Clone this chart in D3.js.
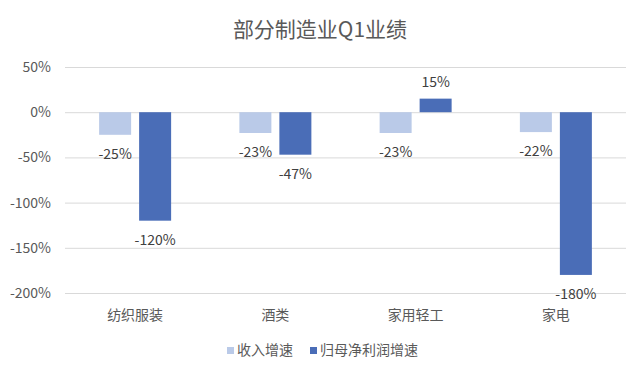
<!DOCTYPE html>
<html>
<head>
<meta charset="utf-8">
<script src="https://cdn.jsdelivr.net/npm/d3@7/dist/d3.min.js"></script>
<style>
  body { margin: 0; background: #fff; }
  text { font-family: "Noto Sans CJK SC", "Noto Sans", sans-serif; }
</style>
</head>
<body>
<div id="chart"></div>
<script>
var categories = ["纺织服装", "酒类", "家用轻工", "家电"];
var seriesNames = ["收入增速", "归母净利润增速"];
var revenueGrowth = [-25, -23, -23, -22];
var profitGrowth = [-120, -47, 15, -180];
var yTicks = [50, 0, -50, -100, -150, -200];

var colors = ["#BACAE8", "#4A6DB7"];

var width = 641,
    height = 371;

var svg = d3.select("#chart").append("svg")
    .attr("width", width)
    .attr("height", height);

var x = d3.scaleBand()
    .domain(categories)
    .range([65, 626]);

var xInner = d3.scaleBand()
    .domain(seriesNames)
    .range([0, 72])
    .paddingInner(0.2);

var y = d3.scaleLinear()
    .domain([-200, 50])
    .range([293, 67]);

// title
svg.append("text")
    .attr("x", 320)
    .attr("y", 37)
    .attr("text-anchor", "middle")
    .attr("font-size", 21)
    .attr("fill", "#595959")
    .text("部分制造业Q1业绩");

// gridlines + y labels
var yAxis = d3.axisLeft(y)
    .tickValues(yTicks)
    .tickSize(-(626 - 65))
    .tickFormat(function(d) { return d + "%"; });

var gy = svg.append("g")
    .attr("transform", "translate(65,0)")
    .call(yAxis);
gy.select(".domain").remove();
gy.selectAll(".tick line")
    .attr("stroke", "#D9D9D9")
    .attr("stroke-width", 1);
gy.selectAll(".tick text")
    .attr("x", -14)
    .attr("font-size", 14)
    .attr("fill", "#595959");

// bars
var rows = categories.map(function(c, i) {
    return { cat: c, values: [revenueGrowth[i], profitGrowth[i]] };
});

var groups = svg.selectAll(".grp")
    .data(rows).enter()
    .append("g")
    .attr("transform", function(d) {
        return "translate(" + (x(d.cat) + x.bandwidth() / 2 - 36) + ",0)";
    });

groups.selectAll("rect")
    .data(function(d) {
        return d.values.map(function(v, j) { return { s: seriesNames[j], v: v, j: j }; });
    }).enter()
    .append("rect")
    .attr("x", function(d) { return xInner(d.s); })
    .attr("width", xInner.bandwidth())
    .attr("y", function(d) { return y(Math.max(0, d.v)); })
    .attr("height", function(d) { return Math.abs(y(d.v) - y(0)); })
    .attr("fill", function(d) { return colors[d.j]; });

groups.selectAll(".lbl")
    .data(function(d) {
        return d.values.map(function(v, j) { return { s: seriesNames[j], v: v }; });
    }).enter()
    .append("text")
    .attr("x", function(d) { return xInner(d.s) + xInner.bandwidth() / 2; })
    .attr("y", function(d) { return d.v >= 0 ? y(d.v) - 12 : y(d.v) + 24; })
    .attr("text-anchor", "middle")
    .attr("font-size", 14)
    .attr("fill", "#404040")
    .text(function(d) { return d.v + "%"; });

// category labels
svg.selectAll(".cat")
    .data(categories).enter()
    .append("text")
    .attr("x", function(d) { return x(d) + x.bandwidth() / 2; })
    .attr("y", 320)
    .attr("text-anchor", "middle")
    .attr("font-size", 14)
    .attr("fill", "#595959")
    .text(function(d) { return d; });

// legend
var legendX = [227, 310];
var legend = svg.selectAll(".leg")
    .data(seriesNames).enter()
    .append("g")
    .attr("transform", function(d, i) { return "translate(" + legendX[i] + ",347)"; });

legend.append("rect")
    .attr("width", 7)
    .attr("height", 7)
    .attr("fill", function(d, i) { return colors[i]; });

legend.append("text")
    .attr("x", 10)
    .attr("y", 8)
    .attr("font-size", 14)
    .attr("fill", "#595959")
    .text(function(d) { return d; });
</script>
</body>
</html>
